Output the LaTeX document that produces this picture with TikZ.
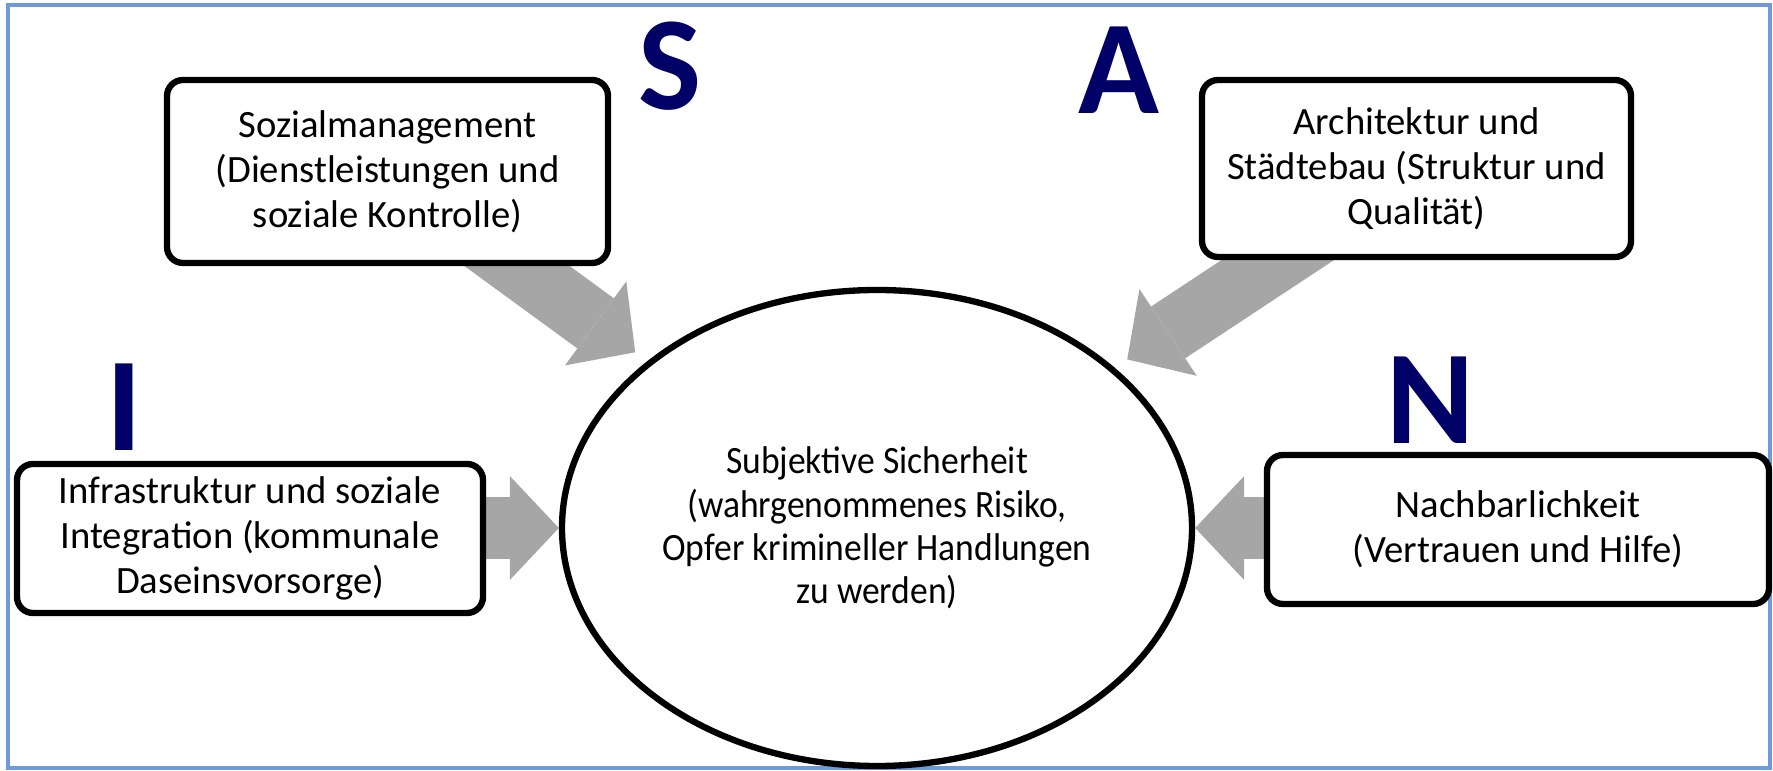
\documentclass[tikz,border=0pt]{standalone}
\usepackage{fontspec}
\setmainfont{Carlito}
\newfontfamily\hubfont[FakeStretch=0.92]{Carlito}
\usetikzlibrary{arrows.meta,shapes.geometric,backgrounds}
\definecolor{framecol}{RGB}{110,155,215}
\definecolor{arrowgray}{RGB}{166,166,166}
\definecolor{navy}{RGB}{0,0,102}

\begin{document}
\begin{tikzpicture}[box/.style={draw, line width=1.8pt, rounded corners=1.6mm, fill=white, align=center, inner sep=0pt, font=\fontsize{11}{12.8}\selectfont},
    hub/.style={draw, ellipse, line width=1.8pt, fill=white, align=center, inner sep=0pt, minimum width=6.3cm, minimum height=4.76cm, font=\hubfont\fontsize{11}{12.3}\selectfont},
    letter/.style={text=navy, font=\fontsize{38}{38}\selectfont\bfseries, anchor=base, inner sep=0pt},
    flow/.style={draw=arrowgray, line width=6.2mm, -{Triangle[width=10.4mm, length=4.9mm, line width=0pt]}}]
        \useasboundingbox (0,0) rectangle (17.73,7.71);
        \draw[framecol, line width=1pt] (0.08,0.03) rectangle (17.70,7.66);

        \node[hub] (hub) at (8.77,2.43) {Subjektive Sicherheit\\(wahrgenommenes Risiko,\\Opfer krimineller Handlungen\\zu werden)};

        \node[box, minimum width=4.41cm, minimum height=1.83cm] (social) at (3.875,5.995) {Sozialmanagement\\(Dienstleistungen und\\soziale Kontrolle)};
        \node[box, minimum width=4.29cm, minimum height=1.77cm] (archi) at (14.165,6.025) {Architektur und\\Städtebau (Struktur und\\Qualität)};
        \node[box, minimum width=4.66cm, minimum height=1.49cm] (infra) at (2.50,2.325) {Infrastruktur und soziale\\Integration (kommunale\\Daseinsvorsorge)};
        \node[box, minimum width=5.02cm, minimum height=1.49cm] (neigh) at (15.18,2.415) {Nachbarlichkeit\\(Vertrauen und Hilfe)};

        \node[letter] (S) at (6.70,6.61) {S};
        \node[letter] (A) at (11.19,6.57) {A};
        \node[letter] (I) at (1.24,3.20) {I};
        \node[letter] (N) at (14.30,3.27) {N};

        \begin{scope}[on background layer]
            \draw[flow, shorten >=1.5mm] (social.center) -- (hub.144);
            \draw[flow, shorten >=1.5mm] (archi.center) -- (hub.34);
            \draw[flow] (infra.center |- hub.west) -- (hub.west);
            \draw[flow] (neigh.center |- hub.east) -- (hub.east);
        \end{scope}
    \end{tikzpicture}
\end{document}
